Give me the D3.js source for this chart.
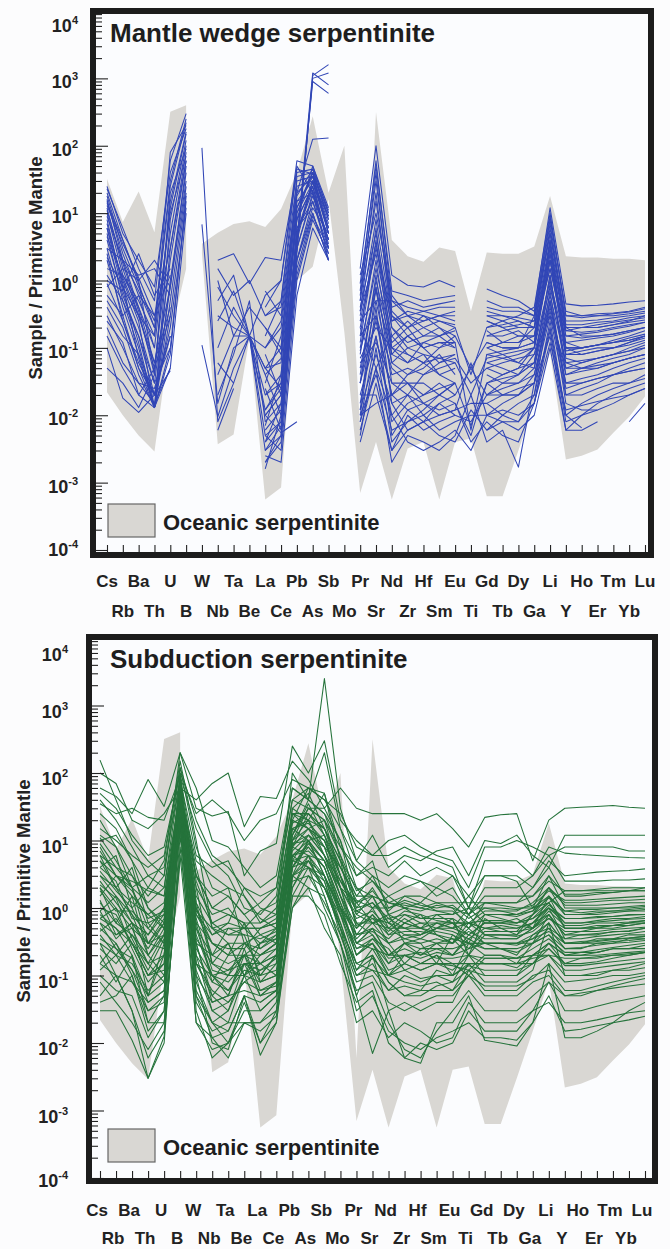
<!DOCTYPE html>
<html>
<head>
<meta charset="utf-8">
<script src="https://cdn.jsdelivr.net/npm/d3@7"></script>
<style>
    body { margin: 0; background: #fcfcfd; }
    svg { display: block; font-family: "Liberation Sans", Arial, sans-serif; font-weight: bold; }
</style>
</head>
<body>
<svg id="chart" width="670" height="1249"></svg>
<script>

// element order on the x axis
const elements = ["Cs", "Rb", "Ba", "Th", "U", "B", "W", "Nb", "Ta", "Be", "La", "Ce", "Pb", "As", "Sb", "Mo",
    "Pr", "Sr", "Nd", "Zr", "Hf", "Sm", "Eu", "Ti", "Gd", "Tb", "Dy", "Ga", "Li", "Y", "Ho", "Er", "Tm", "Yb", "Lu"];

// oceanic serpentinite field (upper / lower envelope, sample / primitive mantle)
const oceanicUpper = [32, 7.4, 21, 5.2, 320, 400, 3.5, 5.1, 6.9, 7.6, 6.2, 11.5, 40, 275, 20, 100,
    0.006, 316, 4, 2.3, 1.9, 3.1, 2.75, 0.35, 2.6, 2.5, 2.5, 3.2, 18, 2.3, 2.2, 2.2, 2.1, 2.1, 2.0];
const oceanicLower = [0.022, 0.01, 0.005, 0.0029, 0.15, 1.5, 2.5, 0.0037, 0.0052, 0.14, 0.00056, 0.00085, 1, 1.6, 16, 0.17,
    0.0007, 0.004, 0.00056, 0.0032, 0.004, 0.00056, 0.004, 0.0045, 0.00063, 0.00063, 0.003, 0.015, 0.085, 0.0022, 0.0025, 0.0031, 0.0055, 0.0095, 0.019];
const oceanicSegments = [["Cs", "B"], ["W", "Lu"]];

// mantle wedge serpentinite, Cs..B
const wedgeLile = [
    [23, 6, 1.5, 0.5, 60, 300],
    [18, 3, 0.8, 0.25, 30, 250],
    [15, 2.5, 0.6, 0.1, 12, 150],
    [12, 1.5, 0.3, 0.05, 5, 100],
    [10, 1.2, 0.5, 0.15, 80, 200],
    [8, 0.8, 0.2, 0.03, 2, 60],
    [6, 1, 0.25, 0.013, 1, 40],
    [5, 0.5, 0.1, 0.013, 0.5, 25],
    [4, 0.6, 0.15, 0.02, 0.8, 30],
    [3, 0.4, 0.08, 0.013, 0.3, 20],
    [2, 0.3, 0.05, 0.02, 0.15, null],
    [1.5, 1.2, 0.4, 0.1, null, null],
    [1, 0.7, 2.5, 0.6, 1.5, null],
    [0.8, 1.5, 1, 2, 0.8, null],
    [0.5, 0.2, 0.04, 0.013, 0.1, 15],
    [0.3, 0.1, 0.03, 0.015, 0.05, null],
    [0.15, 0.05, 0.02, 0.013, 0.05, 10],
    [0.1, 0.018, 0.011, 0.02, 0.046, null],
    [0.05, 0.03, 0.013, 0.04, null, null],
    [0.6, 0.3, 0.6, 0.3, 3, 60],
    [3, 2, 1.2, 1.5, 0.6, null],
    [20, 4, 1, 0.04, 20, 90],
    [7, 0.9, 0.07, 0.013, 8, 120],
    [0.25, 0.12, 0.02, 0.05, 0.3, null],
    [25, 5, 2, 0.8, 40, 180],
    [14, 4, 0.9, 0.2, null, null],
    [9, 2, 0.4, 0.06, 0.8, 50],
    [2.5, 0.25, 0.06, 0.02, 0.2, 12],
    [16, 2, 0.7, 0.2, 25, 220],
    [11, 1.8, 0.35, 0.04, 15, 160],
    [6, 0.7, 0.12, 0.013, 3, 80],
    [4.5, 1.1, 0.3, 0.06, 0.4, null],
    [1.2, 0.5, 0.15, 0.03, 0.1, null],
    [0.9, 0.25, 0.05, 0.013, 0.08, 18],
    [0.4, 0.15, 0.08, 0.02, null, null],
    [13, 3.5, 1.1, 0.3, 1.2, null],
    [2.2, 0.8, 0.3, 0.15, 10, 70],
    [0.2, 0.06, 0.03, 0.025, 0.15, null]
];

// mantle wedge serpentinite, W..Sb
const wedgeFluid = [
    [93, 0.008, 0.03, null, null, null, null, null, null],
    [6.8, 0.015, 0.1, 0.15, 0.01, 0.02, 5, 30, 5],
    [0.11, 0.0095, 0.05, 0.15, 0.005, 0.008, 3, 20, 4],
    [null, 2, 2.5, 0.9, 2.2, 2, 40, 45, 8],
    [null, 1.5, 0.6, 1, 0.3, 0.4, 20, 35, 6],
    [null, 0.5, 1.2, 0.15, 0.1, 0.2, 12, 40, 10],
    [null, 0.3, 0.2, 0.15, 0.05, 0.06, 8, 25, 3],
    [null, 0.1, 0.4, 0.15, 0.02, 0.03, 2, 15, 2.5],
    [null, 0.06, 0.03, 0.15, 0.6, 1, 60, 50, 10],
    [null, 0.02, 0.08, 0.5, 0.008, 0.015, 1.5, 10, 2],
    [null, 0.006, 0.025, null, 0.003, 0.005, 4, 30, 6],
    [null, 0.8, 0.3, 0.15, 0.04, 0.01, 6, 12, null],
    [null, null, null, null, 0.002, 0.005, 2.5, 1100, 1600],
    [null, null, null, null, 0.004, 0.008, 3, 1000, 1200],
    [null, null, null, null, 0.01, 0.02, 4, 1200, 800],
    [null, null, null, null, 0.006, 0.012, 3.5, 900, 600],
    [null, null, null, null, null, 0.3, 20, 125, 130],
    [null, null, null, null, 0.02, 0.04, 10, 40, 5],
    [null, null, null, 0.15, 0.05, 0.1, 25, 30, 3],
    [null, null, null, null, 0.01, 0.0055, 0.008, null, null],
    [null, null, null, null, 0.3, 0.5, 50, 20, 2],
    [null, null, null, null, 0.0016, 0.01, 6, 15, 3],
    [null, null, null, null, 0.005, 0.003, 1, 8, 2.5],
    [null, null, null, null, 0.08, 0.02, 15, 20, 4],
    [null, null, null, null, 0.03, 0.15, 8, 50, 12],
    [null, null, null, null, 0.7, 0.3, null, null, null],
    [null, null, null, null, 0.15, 0.5, 30, 35, 7],
    [null, null, null, null, 0.002, 0.004, 2, 12, 5],
    [null, 0.25, 0.7, 0.15, 0.012, 0.025, 5, 25, 4],
    [null, 1, 0.15, 0.4, 0.2, 0.08, 10, 28, 9],
    [null, null, null, null, 0.04, 0.07, 18, 45, 11],
    [null, null, null, null, 0.0025, 0.002, 0.6, 6, 2],
    [null, null, null, null, 0.05, 0.025, 5, 22, 3.5],
    [null, null, null, null, 0.012, 0.03, 12, 35, 5],
    [null, null, null, null, 0.2, 0.1, 35, 40, 8],
    [null, null, null, null, 0.004, 0.015, 3, 18, 4],
    [null, null, null, null, 0.025, 0.006, 2, 10, 2],
    [null, null, null, null, 0.1, 0.25, 15, 30, 6],
    [null, null, null, null, 0.007, 0.04, 8, 25, null],
    [null, null, null, null, 0.4, 1, 45, 38, 9],
    [null, 0.04, 0.15, 0.15, 0.003, 0.007, 1.2, 9, 3]
];

// mantle wedge serpentinite, Pr..Lu
const wedgeRee = [
    [1.5, 100, 1.2, 0.85, 0.8, 1, 0.8, null, null, null, null, null, null, null, null, null, null, null, null],
    [null, null, null, null, null, null, null, null, 0.75, 0.6, 0.5, 0.35, 12, 0.45, 0.42, 0.43, 0.45, 0.48, 0.5],
    [0.6, 30, 0.4, 0.5, 0.4, 0.45, 0.5, null, 0.4, 0.35, 0.35, 0.3, 8, 0.35, 0.3, 0.32, 0.33, 0.35, 0.4],
    [0.3, 8, 0.25, 0.3, 0.25, 0.3, 0.3, null, 0.3, 0.3, 0.28, 0.25, 5, 0.25, 0.25, 0.26, 0.28, 0.3, 0.33],
    [0.2, 3, 0.3, 0.15, 0.2, 0.25, 0.2, 0.04, 0.2, 0.22, 0.25, 0.2, 3, 0.2, 0.2, 0.22, 0.24, 0.26, 0.28],
    [0.1, 1.5, 0.12, 0.2, 0.1, 0.12, 0.1, null, 0.15, 0.15, 0.18, 0.12, 2, 0.15, 0.16, 0.17, 0.19, 0.21, 0.24],
    [0.05, 0.8, 0.06, 0.1, 0.08, 0.07, 0.08, null, 0.1, 0.12, 0.12, 0.15, 1.5, 0.12, 0.13, 0.14, 0.15, 0.17, 0.2],
    [0.03, 0.5, 0.04, 0.05, 0.04, 0.05, 0.06, 0.02, 0.07, 0.08, 0.09, 0.1, 1, 0.1, 0.1, 0.11, 0.12, 0.14, 0.16],
    [0.015, 0.3, 0.02, 0.03, 0.03, 0.02, 0.03, null, 0.05, 0.06, 0.07, 0.08, 0.8, 0.08, 0.08, 0.09, 0.1, 0.11, 0.13],
    [0.008, 0.15, 0.01, 0.02, 0.015, 0.012, 0.015, 0.005, 0.03, 0.04, 0.05, 0.06, 0.6, 0.06, 0.065, 0.07, 0.08, 0.09, 0.1],
    [0.005, 0.1, 0.004, 0.008, 0.01, 0.006, 0.008, 0.01, 0.01, 0.015, 0.02, 0.04, 0.4, 0.04, 0.045, 0.05, 0.06, 0.07, 0.08],
    [0.006, 0.05, 0.002, 0.005, 0.004, 0.003, 0.005, 0.02, 0.004, 0.006, 0.0017, 0.03, 0.3, 0.02, 0.025, 0.03, 0.04, 0.05, 0.06],
    [0.02, 0.02, 0.003, 0.01, 0.006, 0.008, 0.01, null, 0.006, 0.01, 0.015, 0.02, 0.2, 0.01, 0.015, 0.02, 0.025, 0.03, 0.04],
    [0.4, 5, 0.2, 0.1, 0.12, 0.1, 0.12, 0.006, 0.08, 0.07, 0.06, 0.1, 4, 0.07, 0.06, 0.07, 0.08, 0.1, 0.12],
    [0.25, 0.5, 0.5, 0.3, 0.35, 0.3, 0.25, null, 0.25, 0.2, 0.15, 0.15, 2.5, 0.12, 0.1, 0.11, 0.13, 0.15, 0.18],
    [0.08, 2, 0.06, 0.04, 0.05, 0.08, 0.04, null, 0.04, 0.03, 0.03, 0.05, 0.5, 0.03, 0.035, 0.04, 0.05, 0.06, 0.07],
    [0.012, 0.8, 0.015, 0.006, 0.008, 0.015, 0.02, 0.05, 0.02, 0.02, 0.025, 0.03, 0.15, 0.006, 0.01, 0.015, 0.02, 0.025, 0.03],
    [1.2, 10, 0.6, 0.3, 0.2, 0.15, 0.2, null, 0.15, 0.18, 0.2, null, null, null, null, null, null, null, null],
    [0.15, 0.3, 0.05, 0.03, 0.015, 0.02, 0.03, null, 0.02, 0.03, 0.04, 0.06, 1.2, 0.04, 0.05, 0.06, 0.07, 0.08, 0.1],
    [0.04, 1, 0.1, 0.06, 0.08, 0.04, 0.05, null, 0.06, 0.05, 0.04, 0.08, 0.3, 0.05, 0.06, 0.07, 0.08, 0.09, 0.11],
    [0.008, 0.05, 0.01, 0.004, 0.003, 0.004, 0.006, 0.003, 0.01, 0.008, 0.006, 0.01, 0.1, 0.006, 0.006, 0.008, null, null, null],
    [0.02, 0.15, 0.008, 0.015, 0.02, 0.03, 0.02, null, 0.015, 0.01, 0.008, 0.02, 0.5, 0.015, 0.012, 0.012, null, null, null],
    [0.5, 40, 0.3, 0.2, 0.3, 0.2, 0.15, null, 0.2, 0.25, 0.3, 0.4, 10, 0.3, 0.28, 0.3, 0.3, 0.32, 0.35],
    [0.12, 4, 0.08, 0.15, 0.1, 0.06, 0.07, 0.03, 0.05, 0.04, 0.05, 0.1, 2, 0.08, 0.09, 0.1, 0.1, 0.12, 0.15],
    [0.03, 0.25, 0.02, 0.04, 0.06, 0.04, 0.03, null, 0.03, 0.02, 0.02, 0.03, 0.7, 0.02, 0.02, 0.025, 0.03, 0.03, 0.035],
    [0.01, 0.04, 0.006, 0.008, 0.012, 0.02, 0.015, 0.004, 0.008, 0.005, 0.004, 0.015, 0.25, 0.01, 0.0065, null, null, 0.008, 0.015],
    [0.06, 0.12, 0.03, 0.02, 0.04, 0.06, 0.08, null, 0.1, 0.08, 0.06, 0.05, 0.9, 0.06, 0.05, 0.05, 0.06, 0.07, 0.08],
    [0.2, 0.05, 0.15, 0.08, 0.06, 0.1, 0.15, 0.05, 0.12, 0.1, 0.1, 0.12, 3, 0.1, 0.08, 0.09, 0.1, 0.12, 0.14],
    [0.7, 60, 0.5, 0.4, 0.35, 0.4, 0.4, null, 0.35, 0.3, 0.25, 0.2, 6, 0.2, 0.2, 0.2, 0.22, 0.24, 0.26],
    [0.35, 2.5, 0.15, 0.25, 0.15, 0.2, 0.12, null, 0.18, 0.12, 0.12, 0.2, 1.5, 0.18, 0.2, 0.2, 0.22, 0.25, 0.3],
    [0.01, 0.015, 0.02, 0.012, 0.008, 0.01, 0.012, 0.06, 0.01, 0.012, 0.01, 0.015, 0.12, 0.012, 0.014, 0.016, 0.018, 0.02, 0.025],
    [0.09, 0.7, 0.08, 0.06, 0.12, 0.15, 0.1, null, 0.08, 0.09, 0.1, 0.3, 5, 0.2, 0.15, 0.15, 0.16, 0.18, 0.2],
    [0.35, 20, 0.25, 0.35, 0.3, 0.25, 0.22, null, 0.25, 0.2, 0.22, 0.25, 7, 0.22, 0.22, 0.24, 0.25, 0.28, 0.3],
    [0.15, 6, 0.1, 0.08, 0.06, 0.07, 0.06, null, 0.06, 0.07, 0.08, 0.1, 2.5, 0.09, 0.1, 0.11, 0.12, 0.13, 0.15],
    [0.03, 1.2, 0.03, 0.03, 0.02, 0.025, 0.03, 0.007, 0.03, 0.035, 0.04, 0.06, 1.2, 0.05, 0.05, 0.055, 0.06, 0.07, 0.08],
    [0.01, 0.4, 0.005, 0.012, 0.015, 0.01, 0.012, 0.015, 0.015, 0.02, 0.02, 0.03, 0.5, 0.025, 0.03, 0.035, 0.04, 0.045, 0.05],
    [0.07, 0.2, 0.1, 0.15, 0.1, 0.12, 0.12, null, 0.1, 0.12, 0.15, 0.15, 3.5, 0.15, 0.14, 0.15, 0.16, 0.18, 0.2],
    [0.5, 15, 0.35, 0.2, 0.25, 0.3, 0.35, null, 0.3, 0.25, 0.2, 0.2, 4, 0.18, 0.17, 0.18, 0.2, 0.22, 0.24],
    [0.012, 0.08, 0.015, 0.02, 0.01, 0.015, 0.01, 0.008, 0.02, 0.025, 0.03, 0.04, 0.35, 0.03, 0.03, 0.035, 0.04, 0.045, 0.05],
    [0.25, 3.5, 0.2, 0.12, 0.15, 0.15, 0.18, null, 0.12, 0.1, 0.1, 0.12, 2, 0.1, 0.1, 0.11, 0.12, 0.13, 0.15],
    [0.004, 0.03, 0.003, 0.006, 0.008, 0.005, 0.004, 0.012, 0.006, 0.008, 0.008, 0.015, 0.18, 0.008, 0.01, 0.012, 0.015, 0.02, 0.025],
    [0.9, 50, 0.7, 0.6, 0.5, 0.55, 0.6, null, 0.5, 0.4, 0.4, 0.3, 9, 0.3, 0.3, 0.3, 0.32, 0.34, 0.38]
];

// subduction serpentinite, Cs..Lu
const subduction = [
    [100, 70, 20, 15, 25, 60, 40, 70, 100, 16, 45, 42, 150, 80, 30, 60, 30, 25, 25, 25, 20, 25, 15, 8, 22, 24, 25, 5, 20, 30, 31, 32, 33, 31, 30],
    [155, 40, 10, 5, 3, 120, 8, 2, 1.5, 0.8, 1.2, 2, 60, 40, 200, 15, 5, 12, 4, 6, 5, 7, 8, 3, 10, 9, 12, 6, 4, 12, 12, 12, 12, 12, 12],
    [60, 45, 25, 80, 32, 200, 30, 23, 27, 3, 7, 9, 250, 100, 300, 20, 10, 6, 6, 8, 6, 5, 4, 1, 5, 5, 5, 3, 8, 6.5, 6.2, 6, 5.8, 5.6, 5.5],
    [35, 25, 30, 22, 20, 90, 15, 5, 3, 1, 0.8, 1.5, 40, 60, 50, 8, 3, 4, 3, 5, 3, 4, 3, 1.5, 3, 3, 3, 2, 5, 3, 3.2, 3.4, 3.5, 3.6, 3.8],
    [20, 8, 3, 1, 0.5, 50, 4, 0.5, 0.3, 0.1, 0.3, 0.5, 20, 15, 10, 3, 1, 2, 0.8, 1, 0.7, 0.8, 0.6, 0.3, 0.8, 0.7, 0.6, 0.8, 2, 0.8, 0.8, 0.85, 0.9, 0.9, 0.95],
    [11, 5, 2, 0.5, 0.3, 40, 1, 0.2, 0.5, 0.4, 0.1, 0.2, 8, 25, 15, 5, 0.5, 1, 0.4, 0.6, 0.5, 0.4, 0.3, 0.6, 0.5, 0.5, 0.5, 0.6, 1, 0.6, 0.6, 0.65, 0.7, 0.7, 0.75],
    [3, 1.5, 0.8, 0.2, 0.1, 30, 0.5, 0.1, 0.05, 0.2, 0.05, 0.08, 3, 10, 5, 2, 0.3, 0.5, 0.2, 0.3, 0.2, 0.3, 0.2, 0.4, 0.3, 0.3, 0.3, 0.4, 0.6, 0.3, 0.3, 0.35, 0.35, 0.4, 0.4],
    [1, 0.8, 0.3, 0.1, 0.2, 25, 0.2, 0.03, 0.02, 0.1, 0.03, 0.05, 2, 5, 3, 1, 0.2, 0.3, 0.1, 0.2, 0.15, 0.2, 0.1, 0.3, 0.2, 0.2, 0.15, 0.3, 0.4, 0.2, 0.2, 0.22, 0.25, 0.25, 0.28],
    [0.5, 0.3, 0.1, 0.02, 0.05, 20, 0.1, 0.01, 0.008, 0.05, 0.01, 0.03, 1, 3, 2, 0.5, 0.1, 0.15, 0.06, 0.1, 0.08, 0.1, 0.08, 0.2, 0.1, 0.1, 0.1, 0.2, 0.2, 0.1, 0.1, 0.11, 0.12, 0.13, 0.15],
    [0.03, 0.03, 0.011, 0.003, 0.0125, 8, 0.05, 0.012, 0.015, 0.05, 0.0066, 0.02, 1.5, 4, 1, 0.3, 0.05, 0.007, 0.03, 0.006, 0.005, 0.02, 0.02, 0.05, 0.011, 0.01, 0.009, 0.02, 0.15, 0.012, 0.012, 0.015, 0.02, 0.03, 0.04],
    [8, 3, 1.5, 0.8, 1.2, 35, 2, 0.8, 1, 0.5, 0.5, 0.6, 15, 20, 8, 4, 1.5, 3, 1, 1.2, 1, 1.2, 1, 0.5, 1.2, 1.1, 1, 1, 3, 1, 1, 1, 1, 1.05, 1.1],
    [5, 2, 4, 0.6, 0.8, 45, 3, 1.5, 2, 0.3, 0.2, 0.3, 10, 30, 20, 6, 0.8, 1.5, 0.5, 0.8, 0.6, 0.6, 0.5, 1, 0.6, 0.6, 0.7, 0.5, 1.5, 0.9, 0.85, 0.9, 0.9, 0.95, 1],
    [2, 1, 0.5, 0.3, 0.6, 70, 0.3, 0.05, 0.1, 0.3, 0.15, 0.1, 5, 12, 8, 1.5, 0.4, 0.8, 0.3, 0.15, 0.25, 0.3, 0.3, 0.8, 0.4, 0.4, 0.4, 0.8, 1.2, 0.5, 0.5, 0.5, 0.55, 0.6, 0.6],
    [0.8, 0.5, 0.2, 0.05, 0.3, 100, 0.8, 0.3, 0.2, 0.6, 0.08, 0.15, 30, 50, 15, 3, 0.6, 0.4, 0.15, 0.3, 0.3, 0.15, 0.4, 0.3, 0.3, 0.25, 0.2, 0.4, 0.5, 0.25, 0.25, 0.3, 0.3, 0.35, 0.35],
    [0.3, 0.2, 0.4, 0.15, 0.08, 60, 0.15, 0.05, 0.03, 0.15, 0.05, 0.08, 6, 8, 4, 0.8, 0.15, 0.2, 0.08, 0.05, 0.06, 0.12, 0.1, 0.15, 0.15, 0.15, 0.15, 0.15, 0.3, 0.15, 0.15, 0.16, 0.18, 0.2, 0.22],
    [0.1, 0.06, 0.05, 0.012, 0.03, 40, 0.05, 0.02, 0.01, 0.02, 0.02, 0.04, 3, 6, 2.5, 0.4, 0.08, 0.1, 0.04, 0.03, 0.04, 0.05, 0.05, 0.1, 0.05, 0.05, 0.05, 0.08, 0.1, 0.05, 0.05, 0.06, 0.07, 0.08, 0.09],
    [4, 6, 1, 2, 5, 150, 10, 0.5, 0.6, 2, 1, 0.8, 100, 40, 25, 10, 2, 1, 1.5, 2, 2.5, 1.5, 2, 0.8, 1.5, 1.5, 1.5, 1.5, 2.5, 1.8, 1.8, 1.9, 2, 2, 2],
    [1.5, 3, 2, 3, 4, 80, 6, 4, 5, 1.5, 0.6, 1, 25, 20, 6, 2.5, 1.2, 0.6, 0.7, 0.5, 0.4, 0.5, 0.7, 0.2, 0.7, 0.5, 0.4, 0.6, 0.8, 0.4, 0.45, 0.5, 0.5, 0.55, 0.6],
    [0.15, 0.1, 0.03, 0.003, 0.01, 12, 0.02, 0.008, 0.01, 0.03, 0.03, 0.05, 4, 10, 3, 0.5, 0.05, 0.2, 0.03, 0.04, 0.03, 0.04, 0.04, 0.12, 0.06, 0.06, 0.06, 0.1, 0.12, 0.06, 0.06, 0.07, 0.08, 0.09, 0.1],
    [40, 20, 8, 3, 2, 50, 5, 3, 2, 1.5, 0.7, 0.5, 15, 10, 12, 2, 0.8, 0.6, 0.8, 0.6, 0.5, 0.8, 0.8, 1.5, 0.8, 0.8, 0.8, 1, 1.5, 0.8, 0.8, 0.8, 0.85, 0.9, 0.9],
    [6, 4, 3, 1.5, 3, 200, 60, 10, 8, 4, 2, 3, 60, 40, 2500, 30, 5, 3, 2, 3, 2.5, 2, 3, 1, 3, 3, 2.5, 1, 1.2, 1.8, 1.8, 1.8, 1.8, 1.8, 1.8],
    [0.08, 0.04, 0.02, 0.008, 0.02, 5, null, null, null, null, 0.04, 0.06, 2, 6, 1.5, 0.3, 0.06, 0.08, 0.02, 0.008, 0.006, 0.015, 0.03, 0.06, 0.03, 0.03, 0.03, 0.05, 0.08, 0.03, 0.03, 0.035, 0.04, 0.045, 0.05],
    [2.5, 1.2, 0.6, 0.4, 0.8, 30, 0.6, 0.08, 0.2, 0.2, 0.3, 0.4, 12, 30, 30, 10, 1, 1.2, 0.6, 0.4, 0.4, 0.6, 0.6, 0.4, 0.6, 0.6, 0.6, 0.7, 1, 0.7, 0.7, 0.75, 0.75, 0.8, 0.8],
    [10, 12, 5, 1, 0.6, 60, 2, 0.15, 0.1, 0.1, 0.15, 0.2, 20, 60, 40, 15, 3, 5, 0.8, 0.3, 0.35, 0.5, 0.5, 0.6, 0.4, 0.35, 0.35, 0.5, 1, 0.35, 0.35, 0.38, 0.4, 0.42, 0.45],
    [0.6, 0.4, 0.6, 0.05, 0.2, 35, null, null, null, null, null, null, 8, 15, 10, 2, 0.4, 0.5, 0.35, 0.6, 0.8, 0.4, 0.3, 0.5, 0.3, 0.3, 0.3, 0.3, 0.8, 0.3, 0.32, 0.33, 0.35, 0.36, 0.38],
    [0.04, 0.05, 0.1, 0.015, 0.03, 20, 0.03, 0.006, 0.01, 0.04, 0.01, 0.02, 1, 2, 0.5, 0.2, 0.02, 0.03, 0.012, 0.02, 0.015, 0.01, 0.012, 0.04, 0.02, 0.02, 0.02, 0.03, 0.04, 0.02, 0.02, 0.022, 0.025, 0.028, 0.03],
    [25, 15, 5, 2, 1.5, 40, 3, 1, 1.5, 0.8, 0.4, 0.3, 10, 20, 50, 5, 2, 1.5, 1.2, 1.5, 1.5, 1.2, 1.2, 1.2, 1.2, 1.2, 1.2, 2, 4, 1.5, 1.5, 1.6, 1.7, 1.8, 2],
    [3, 2, 1.2, 0.8, 0.5, 50, 0.8, 0.4, 0.5, 0.5, 0.5, 0.6, 20, 15, 20, 3, 0.6, 0.6, 0.5, 0.5, 0.6, 0.5, 0.6, 0.6, 0.5, 0.45, 0.45, 0.8, 1.5, 0.5, 0.5, 0.55, 0.55, 0.6, 0.65],
    [0.3, 0.1, 0.08, 0.03, 0.04, 25, 0.08, 0.02, 0.03, 0.1, 0.08, 0.1, 5, 4, 3, 0.6, 0.12, 0.25, 0.1, 0.08, 0.07, 0.08, 0.06, 0.15, 0.08, 0.08, 0.08, 0.12, 0.6, 0.1, 0.1, 0.1, 0.12, 0.12, 0.13],
    [1.2, 0.6, 0.4, 0.2, 0.4, 45, 0.4, 0.1, 0.08, 0.15, 0.1, 0.2, 7, 12, 6, 1.5, 0.3, 0.4, 0.2, 0.25, 0.2, 0.25, 0.25, 0.3, 0.25, 0.25, 0.25, 0.3, 0.5, 0.35, 0.4, 0.4, 0.45, 0.45, 0.5],
    [0.7, 0.5, 0.3, 0.1, 0.15, 25, 0.3, 0.2, 0.3, 0.1, 0.2, 0.3, 8, 6, 5, 1, 0.5, 0.8, 0.45, 0.7, 0.5, 0.45, 0.4, 0.25, 0.45, 0.45, 0.45, 0.5, 0.9, 0.55, 0.55, 0.6, 0.6, 0.62, 0.65],
    [0.4, 0.2, 0.15, 0.06, 0.1, 15, 0.15, 0.06, 0.04, 0.08, 0.12, 0.15, 4, 5, 2, 0.8, 0.2, 0.35, 0.25, 0.12, 0.15, 0.2, 0.15, 0.1, 0.18, 0.18, 0.18, 0.2, 0.3, 0.2, 0.22, 0.22, 0.25, 0.25, 0.25],
    [15, 10, 6, 4, 6, 120, 20, 6, 4, 2, 1.5, 2, 40, 30, 20, 8, 4, 2.5, 1.5, 1, 1.2, 2, 1.5, 0.8, 2, 2, 2, 3, 6, 2.5, 2.5, 2.5, 2.6, 2.6, 2.7],
    [0.2, 0.08, 0.2, 0.02, 0.02, 18, 0.04, 0.015, 0.02, 0.02, 0.02, 0.03, 3, 2, 1.5, 0.3, 0.03, 0.05, 0.015, 0.01, 0.008, 0.012, 0.015, 0.02, 0.012, 0.012, 0.011, 0.02, 0.05, 0.015, 0.016, 0.018, 0.02, 0.022, 0.025],
    [6, 2, 0.8, 0.4, 1, 60, 1.5, 0.6, 0.8, 0.6, 0.25, 0.4, 12, 35, 12, 4, 1.2, 1.8, 0.9, 1.5, 1.2, 0.9, 0.9, 0.6, 0.9, 0.9, 0.8, 0.9, 2, 1.2, 1.2, 1.25, 1.3, 1.3, 1.35],
    [0.9, 1.5, 0.6, 0.3, 0.25, 30, 0.3, 0.04, 0.05, 0.25, 0.06, 0.08, 4, 8, 4, 1, 0.25, 0.3, 0.12, 0.15, 0.12, 0.15, 0.12, 0.2, 0.15, 0.15, 0.13, 0.2, 0.25, 0.15, 0.18, 0.18, 0.2, 0.2, 0.22],
    [0.05, 0.1, 0.03, 0.006, 0.015, 6, 0.02, 0.012, 0.006, 0.02, 0.015, 0.025, 1.5, 1.5, 0.8, 0.15, 0.04, 0.06, 0.01, 0.006, 0.01, 0.008, 0.01, 0.03, 0.015, 0.015, 0.015, 0.03, 0.08, 0.05, 0.055, 0.06, 0.065, 0.07, 0.075],
    [50, 30, 12, 6, 8, 100, 25, 40, 25, 10, 20, 25, 80, 60, 40, 25, 8, 6, 10, 12, 8, 6, 5, 2, 8, 8, 10, 8, 6, 8, 8, 8, 8, 7, 7],
    [12, 8, 2, 0.3, 0.4, 80, 1.2, 0.15, 0.3, 0.3, 0.4, 0.5, 25, 25, 15, 5, 1.5, 1.5, 0.6, 0.5, 0.5, 0.6, 0.5, 0.4, 0.6, 0.6, 0.55, 0.5, 0.8, 0.4, 0.4, 0.42, 0.44, 0.46, 0.5],
    [0.12, 0.2, 0.08, 0.04, 0.06, 25, null, null, null, null, 0.2, 0.25, 6, 4, 2, 0.5, 0.15, 0.2, 0.08, 0.05, 0.05, 0.07, 0.08, 0.12, 0.1, 0.1, 0.1, 0.15, 0.2, 0.12, 0.12, 0.13, 0.14, 0.15, 0.16],
    [2, 0.6, 1.5, 0.2, 0.5, 40, 0.6, 0.3, 0.2, 0.3, 0.25, 0.35, 10, 15, 8, 2, 0.7, 0.9, 0.5, 0.35, 0.4, 0.5, 0.45, 0.35, 0.5, 0.55, 0.5, 0.6, 1.1, 0.7, 0.7, 0.72, 0.75, 0.78, 0.8],
    [0.7, 1, 0.25, 0.08, 0.15, 30, 0.2, 0.08, 0.06, 0.12, 0.1, 0.12, 5, 6, 3, 0.9, 0.25, 0.35, 0.18, 0.2, 0.18, 0.22, 0.2, 0.25, 0.3, 0.3, 0.28, 0.35, 0.45, 0.3, 0.3, 0.32, 0.34, 0.36, 0.38],
    [4, 2.5, 0.7, 0.6, 0.3, 55, 0.9, 0.5, 0.4, 0.4, 0.35, 0.45, 18, 25, 12, 3, 0.9, 1.2, 0.7, 0.8, 0.7, 0.7, 0.7, 0.5, 0.8, 0.8, 0.75, 0.9, 1.4, 0.9, 0.95, 0.95, 1, 1, 1.05],
    [0.25, 0.15, 0.3, 0.1, 0.12, 22, 0.12, 0.03, 0.04, 0.08, 0.06, 0.07, 3, 5, 2, 0.6, 0.12, 0.18, 0.1, 0.12, 0.09, 0.1, 0.1, 0.14, 0.12, 0.12, 0.12, 0.15, 0.25, 0.14, 0.14, 0.15, 0.16, 0.17, 0.18],
    [1.8, 0.9, 0.9, 0.5, 1, 65, 0.5, 0.2, 0.15, 0.2, 0.15, 0.25, 9, 10, 5, 1.2, 0.35, 0.6, 0.3, 0.35, 0.3, 0.35, 0.3, 0.45, 0.35, 0.35, 0.35, 0.5, 0.7, 0.45, 0.45, 0.45, 0.48, 0.5, 0.52],
    [9, 4, 2, 1.2, 2, 90, 3, 1, 0.8, 0.6, 0.6, 0.8, 30, 20, 15, 4, 1.3, 1, 1, 1.3, 1.1, 1, 1.1, 0.7, 1, 1, 0.95, 1.1, 1.8, 1.3, 1.3, 1.35, 1.4, 1.45, 1.5],
    [0.15, 0.3, 0.12, 0.05, 0.08, 15, 0.06, 0.02, 0.015, 0.05, 0.04, 0.06, 2.5, 3, 1.2, 0.4, 0.1, 0.12, 0.06, 0.07, 0.06, 0.06, 0.06, 0.1, 0.07, 0.07, 0.07, 0.09, 0.15, 0.08, 0.085, 0.09, 0.1, 0.1, 0.11],
    [3.5, 1.8, 1, 0.3, 0.7, 45, 1, 0.3, 0.25, 0.25, 0.5, 0.7, 15, 18, 10, 2.5, 0.9, 0.7, 0.6, 0.9, 0.8, 0.65, 0.6, 0.6, 0.65, 0.65, 0.6, 0.7, 1.2, 0.6, 0.6, 0.62, 0.65, 0.68, 0.7],
    [0.45, 0.7, 0.3, 0.15, 0.4, 35, null, null, null, null, null, null, null, null, null, null, 0.3, 0.5, 0.2, 0.3, 0.25, 0.25, 0.2, 0.35, 0.25, 0.25, 0.22, 0.3, 0.4, 0.25, 0.26, 0.28, 0.3, 0.31, 0.33],
    [1.3, 0.4, 0.5, 0.15, 0.2, 28, 0.25, 0.1, 0.12, 0.15, 0.12, 0.18, 6, 7, 4, 1, 0.4, 0.45, 0.3, 0.4, 0.35, 0.3, 0.35, 0.3, 0.3, 0.3, 0.3, 0.35, 0.6, 0.3, 0.3, 0.3, 0.32, 0.33, 0.35],
    [7, 3, 1.8, 0.7, 0.9, 70, 2.5, 0.6, 0.4, 0.5, 0.3, 0.35, 12, 40, 25, 6, 1.8, 2.5, 1.2, 1, 0.9, 1.1, 1, 0.8, 1.2, 1.2, 1.2, 1.5, 3, 1.6, 1.6, 1.7, 1.7, 1.8, 1.8],
    [0.35, 0.25, 0.18, 0.04, 0.06, 18, 0.1, 0.04, 0.05, 0.06, 0.05, 0.06, 3, 4, 2.5, 0.5, 0.15, 0.12, 0.1, 0.15, 0.12, 0.15, 0.14, 0.12, 0.2, 0.2, 0.18, 0.2, 0.3, 0.2, 0.2, 0.2, 0.21, 0.22, 0.23],
    [2.2, 1.4, 0.35, 0.12, 0.35, 50, 0.7, 0.12, 0.1, 0.2, 0.2, 0.3, 9, 12, 6, 1.5, 0.55, 0.7, 0.4, 0.45, 0.45, 0.4, 0.35, 0.2, 0.4, 0.4, 0.38, 0.45, 0.7, 0.5, 0.5, 0.52, 0.55, 0.55, 0.6],
    [0.9, 0.35, 0.6, 0.25, 0.6, 40, 0.35, 0.15, 0.12, 0.2, 0.08, 0.1, 4, 9, 5, 1.2, 0.2, 0.3, 0.15, 0.2, 0.22, 0.18, 0.18, 0.2, 0.18, 0.18, 0.18, 0.25, 0.35, 0.22, 0.22, 0.24, 0.26, 0.28, 0.3],
    [5, 3, 2.5, 1.8, 1.5, 45, 1.2, 0.4, 0.6, 0.5, 0.9, 1.2, 25, 15, 6, 2, 1.2, 1.5, 1.2, 1.1, 1, 0.9, 0.8, 1, 1, 0.9, 0.9, 1.2, 2, 1.1, 1.1, 1.1, 1.15, 1.2, 1.2],
    [0.6, 0.25, 0.12, 0.03, 0.05, 20, 0.15, 0.1, 0.06, 0.15, 0.15, 0.2, 6, 10, 3, 0.8, 0.3, 0.25, 0.2, 0.2, 0.15, 0.15, 0.15, 0.15, 0.15, 0.15, 0.15, 0.18, 0.2, 0.18, 0.18, 0.19, 0.2, 0.21, 0.22]
];

// y axis decades
const decades = [-4, -3, -2, -1, 0, 1, 2, 3, 4];

const fieldColor = '#d9d7d3';
const borderWidth = 6;

const panels = [
    {
        title: 'Mantle wedge serpentinite', color: '#3146b6',
        frame: [90, 8, 654, 558], xRange: [107, 645], yRange: [550, 11],
        tickLabelX: 78, labelDy: { top: 21, bottom: 6, other: 10 },
        yTitle: [35, 268], labelRows: [587, 617], labelShift: 0, legendY: 504,
        groups: [{ start: 'Cs', rows: wedgeLile }, { start: 'W', rows: wedgeFluid }, { start: 'Pr', rows: wedgeRee }]
    },
    {
        title: 'Subduction serpentinite', color: '#25733b',
        frame: [86, 634, 658, 1184], xRange: [100, 645], yRange: [1178, 638],
        tickLabelX: 68, labelDy: { top: 23, bottom: 9, other: 12 },
        yTitle: [23, 891], labelRows: [1216, 1244], labelShift: -3, legendY: 1129,
        groups: [{ start: 'Cs', rows: subduction }]
    }
];

let svg = d3.select('#chart');

panels.forEach((p, pi) => {

    const [fx0, fy0, fx1, fy1] = p.frame;
    let g = svg.append('g');

    let x_scale = d3.scalePoint().domain(elements).range(p.xRange);
    let y_scale = d3.scaleLog().domain([1e-4, 1e4]).range(p.yRange);

    // plot background + clip
    g.append('rect')
        .attr('x', fx0).attr('y', fy0)
        .attr('width', fx1 - fx0).attr('height', fy1 - fy0)
        .attr('fill', '#fbfcfe');

    const clip_id = 'clip' + pi;
    g.append('clipPath').attr('id', clip_id)
        .append('rect')
        .attr('x', fx0 + borderWidth).attr('y', fy0 + borderWidth)
        .attr('width', fx1 - fx0 - 2 * borderWidth).attr('height', fy1 - fy0 - 2 * borderWidth);

    let plot = g.append('g').attr('clip-path', `url(#${clip_id})`);

    // oceanic serpentinite field
    const field_area = d3.area()
        .x((d) => x_scale(d))
        .y0((d) => y_scale(oceanicLower[elements.indexOf(d)]))
        .y1((d) => y_scale(oceanicUpper[elements.indexOf(d)]));

    oceanicSegments.forEach(([a, b]) => {
        plot.append('path')
            .datum(elements.slice(elements.indexOf(a), elements.indexOf(b) + 1))
            .attr('d', field_area)
            .attr('fill', fieldColor);
    });

    // sample lines
    const line = d3.line()
        .defined((d) => d.v != null)
        .x((d) => x_scale(d.el))
        .y((d) => y_scale(d.v));

    p.groups.forEach((grp) => {
        const s = elements.indexOf(grp.start);
        grp.rows.forEach((row) => {
            plot.append('path')
                .datum(row.map((v, i) => ({ el: elements[s + i], v: v })))
                .attr('d', line)
                .attr('fill', 'none')
                .attr('stroke', p.color)
                .attr('stroke-width', 1.05)
                .attr('stroke-linejoin', 'round');
        });
    });

    // left axis ticks (minor + major), pointing inward
    let minor = [];
    decades.slice(0, -1).forEach((e) => {
        for (let m = 2; m <= 9; m++) minor.push(m * Math.pow(10, e));
    });
    const major = decades.map((e) => Math.pow(10, e));

    [[minor, 6], [major, 12]].forEach(([vals, size]) => {
        let ax = g.append('g')
            .attr('transform', `translate(${fx0 + borderWidth}, 0)`)
            .call(d3.axisRight(y_scale).tickValues(vals).tickSize(size).tickFormat(''));
        ax.select('.domain').remove();
        ax.selectAll('line').attr('stroke', '#222').attr('stroke-width', 1.1);
    });

    // bottom axis ticks
    let bx = g.append('g')
        .attr('transform', `translate(0, ${fy1 - borderWidth})`)
        .call(d3.axisTop(x_scale).tickSize(7).tickFormat(''));
    bx.select('.domain').remove();
    bx.selectAll('line').attr('stroke', '#222').attr('stroke-width', 1.1);

    // frame
    g.append('rect')
        .attr('x', fx0 + borderWidth / 2).attr('y', fy0 + borderWidth / 2)
        .attr('width', fx1 - fx0 - borderWidth).attr('height', fy1 - fy0 - borderWidth)
        .attr('fill', 'none')
        .attr('stroke', '#1c1c1c')
        .attr('stroke-width', borderWidth);

    // y tick labels 10^n
    decades.forEach((e) => {
        const dy = e === 4 ? p.labelDy.top : (e === -4 ? p.labelDy.bottom : p.labelDy.other);
        let t = g.append('text')
            .attr('x', p.tickLabelX)
            .attr('y', y_scale(Math.pow(10, e)) + dy)
            .attr('text-anchor', 'end')
            .style('fill', '#222')
            .style('font-size', '18px');
        t.append('tspan').text('10');
        t.append('tspan').attr('dy', -8).style('font-size', '11px').text(e < 0 ? '-' + Math.abs(e) : e);
    });

    // y axis title
    g.append('text')
        .attr('transform', `translate(${p.yTitle[0]}, ${p.yTitle[1]}) rotate(-90)`)
        .attr('text-anchor', 'middle')
        .attr('dominant-baseline', 'central')
        .style('fill', '#222')
        .style('font-size', '18.5px')
        .text('Sample / Primitive Mantle');

    // element labels in two rows
    g.selectAll('.el-label')
        .data(elements)
        .enter()
        .append('text')
        .attr('x', (d) => x_scale(d) + p.labelShift)
        .attr('y', (d, i) => p.labelRows[i % 2])
        .attr('text-anchor', 'middle')
        .style('fill', '#222')
        .style('font-size', '17px')
        .text((d) => d);

    // title
    g.append('text')
        .attr('x', 110)
        .attr('y', fy0 + 34)
        .style('fill', '#1e1e1e')
        .style('font-size', '26px')
        .text(p.title);

    // legend
    g.append('rect')
        .attr('x', 108).attr('y', p.legendY)
        .attr('width', 47).attr('height', 33)
        .attr('fill', fieldColor)
        .attr('stroke', '#666')
        .attr('stroke-width', 1.2);

    g.append('text')
        .attr('x', 163)
        .attr('y', p.legendY + 26)
        .style('fill', '#1e1e1e')
        .style('font-size', '22px')
        .text('Oceanic serpentinite');
});

</script>
</body>
</html>
